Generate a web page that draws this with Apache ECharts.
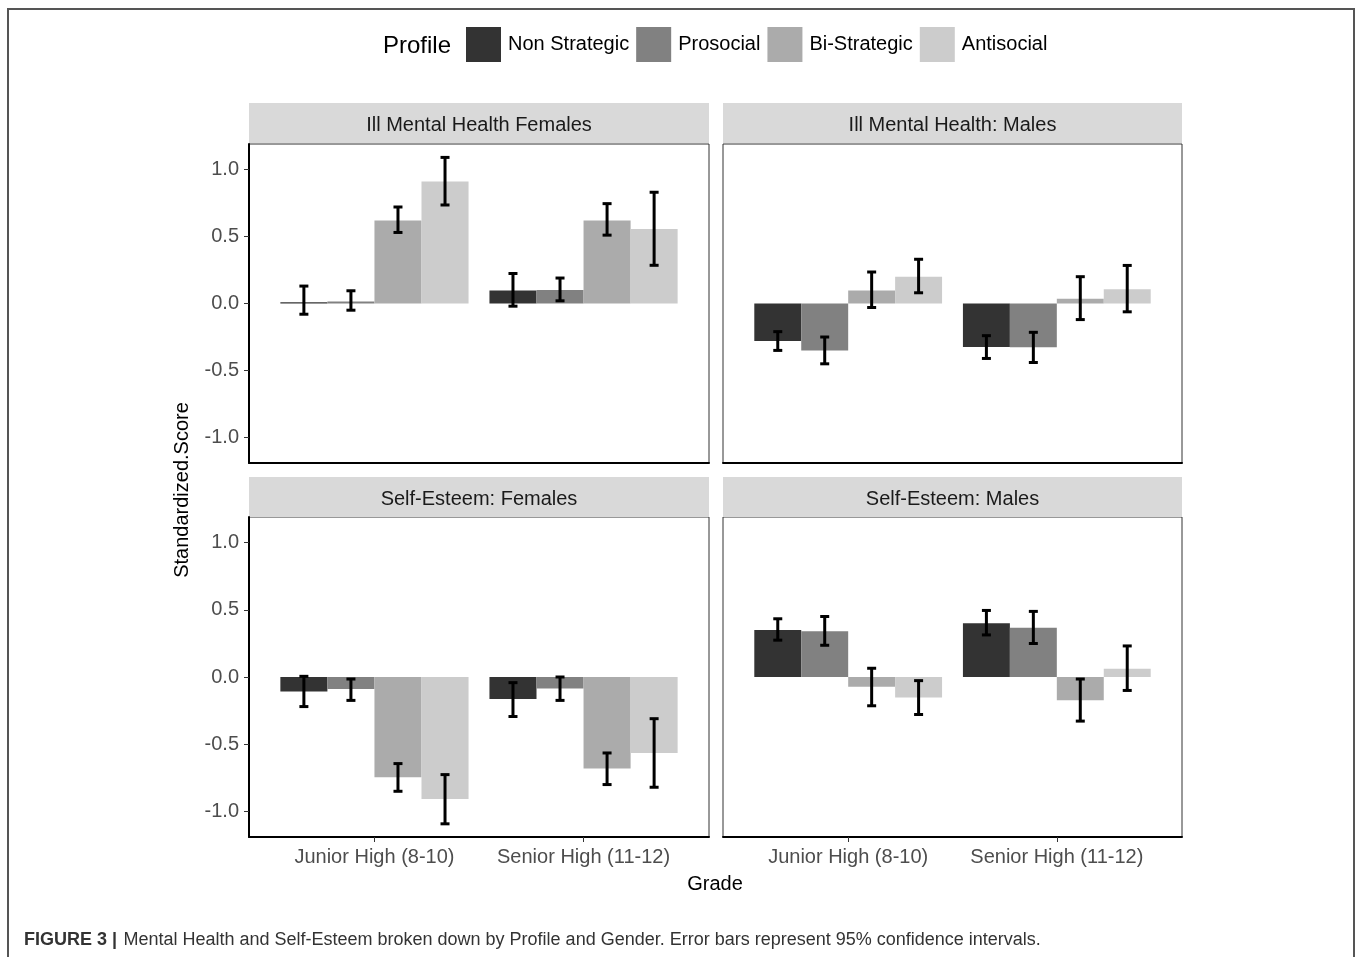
<!DOCTYPE html>
<html>
<head>
<meta charset="utf-8">
<title>Mental Health and Self-Esteem by Profile and Gender</title>
<script src="https://cdn.jsdelivr.net/npm/echarts@6/dist/echarts.min.js"></script>
<style>
  html, body { margin: 0; padding: 0; background: #fff; }
  #chart { width: 1358px; height: 957px; }
</style>
</head>
<body>
<div id="chart"></div>
<script>
// Grades on the x axis, profiles as dodged bars
const grades = ['Junior High (8-10)', 'Senior High (11-12)'];
const profiles = ['Non Strategic', 'Prosocial', 'Bi-Strategic', 'Antisocial'];
const profileColors = ['#333333', '#818181', '#ababab', '#cccccc'];
const yTicks = [-1.0, -0.5, 0.0, 0.5, 1.0];
const panelTitles = ['Ill Mental Health Females', 'Ill Mental Health: Males', 'Self-Esteem: Females', 'Self-Esteem: Males'];

// Means and 95% CI bounds: one row per profile, [Junior, Senior]
const illFemaleMean = [[0.01, 0.097], [0.015, 0.10], [0.62, 0.62], [0.91, 0.555]];
const illFemaleLow  = [[-0.08, -0.02], [-0.05, 0.02], [0.53, 0.51], [0.735, 0.285]];
const illFemaleHigh = [[0.13, 0.224], [0.095, 0.19], [0.72, 0.745], [1.09, 0.83]];

const illMaleMean = [[-0.28, -0.325], [-0.35, -0.326], [0.097, 0.035], [0.20, 0.107]];
const illMaleLow  = [[-0.35, -0.41], [-0.45, -0.44], [-0.03, -0.12], [0.08, -0.062]];
const illMaleHigh = [[-0.21, -0.24], [-0.25, -0.215], [0.235, 0.20], [0.33, 0.284]];

const esteemFemaleMean = [[-0.107, -0.164], [-0.09, -0.085], [-0.746, -0.68], [-0.908, -0.565]];
const esteemFemaleLow  = [[-0.22, -0.294], [-0.174, -0.174], [-0.85, -0.80], [-1.092, -0.82]];
const esteemFemaleHigh = [[0.005, -0.042], [-0.015, 0.0], [-0.644, -0.565], [-0.726, -0.31]];

const esteemMaleMean = [[0.35, 0.40], [0.34, 0.366], [-0.072, -0.172], [-0.152, 0.062]];
const esteemMaleLow  = [[0.274, 0.313], [0.236, 0.249], [-0.214, -0.328], [-0.279, -0.10]];
const esteemMaleHigh = [[0.433, 0.495], [0.45, 0.488], [0.065, -0.015], [-0.027, 0.231]];

const panelData = [
  [illFemaleMean, illFemaleLow, illFemaleHigh],
  [illMaleMean, illMaleLow, illMaleHigh],
  [esteemFemaleMean, esteemFemaleLow, esteemFemaleHigh],
  [esteemMaleMean, esteemMaleLow, esteemMaleHigh]
];

// Panel geometry (px)
const panels = [
  { left: 249, top: 144, width: 460, height: 319, leftCol: true,  bottomRow: false },
  { left: 723, top: 144, width: 459, height: 319, leftCol: false, bottomRow: false },
  { left: 249, top: 517, width: 460, height: 320, leftCol: true,  bottomRow: true },
  { left: 723, top: 517, width: 459, height: 320, leftCol: false, bottomRow: true }
];

const FONT = '"Liberation Sans", Arial, Helvetica, sans-serif';
const DODGE = 0.9 / profiles.length;

function makeRenderer(profIdx) {
  return function (params, api) {
    const x = api.value(0) + (profIdx - (profiles.length - 1) / 2) * DODGE;
    const v = api.value(1), lo = api.value(2), hi = api.value(3);
    const a = api.coord([x - DODGE / 2, v]);
    const b = api.coord([x + DODGE / 2, 0]);
    const top = api.coord([x, hi]);
    const bot = api.coord([x, lo]);
    const cap = 4.5;
    const errStyle = { stroke: '#000', lineWidth: 3, fill: null };
    return {
      type: 'group',
      children: [
        {
          type: 'rect',
          shape: { x: a[0], y: Math.min(a[1], b[1]), width: b[0] - a[0], height: Math.max(Math.abs(b[1] - a[1]), 0.6) },
          style: { fill: api.visual('color') }
        },
        { type: 'line', z2: 10, shape: { x1: top[0], y1: top[1], x2: bot[0], y2: bot[1] }, style: errStyle },
        { type: 'line', z2: 10, shape: { x1: top[0] - cap, y1: top[1], x2: top[0] + cap, y2: top[1] }, style: errStyle },
        { type: 'line', z2: 10, shape: { x1: bot[0] - cap, y1: bot[1], x2: bot[0] + cap, y2: bot[1] }, style: errStyle }
      ]
    };
  };
}

const grid = [], xAxis = [], yAxis = [], series = [];
panels.forEach(function (p, i) {
  grid.push({ left: p.left, top: p.top, width: p.width, height: p.height, show: true,
              borderColor: '#333', borderWidth: 1, backgroundColor: '#fff', containLabel: false });
  // discrete positions 1 and 2 with 0.6 padding on each side
  xAxis.push({
    gridIndex: i, type: 'value', min: 0.4, max: 2.6,
    axisLine: { show: true, onZero: false, lineStyle: { color: '#000', width: 2 } },
    axisTick: { show: p.bottomRow, customValues: [1, 2], length: 5, lineStyle: { color: '#333', width: 1 } },
    axisLabel: { show: p.bottomRow, customValues: [1, 2], margin: 10,
                 formatter: function (v) { return grades[Math.round(v) - 1]; },
                 fontFamily: FONT, fontSize: 20, color: '#4d4d4d' },
    splitLine: { show: false }
  });
  yAxis.push({
    gridIndex: i, type: 'value', min: -1.19, max: 1.19,
    axisLine: { show: p.leftCol, onZero: false, lineStyle: { color: '#000', width: 2 } },
    axisTick: { show: p.leftCol, customValues: yTicks, length: 5, lineStyle: { color: '#333', width: 1 } },
    axisLabel: { show: p.leftCol, customValues: yTicks, margin: 10,
                 formatter: function (v) { return (Math.abs(v) < 1e-9 ? 0 : v).toFixed(1); },
                 fontFamily: FONT, fontSize: 20, color: '#4d4d4d' },
    splitLine: { show: false }
  });
  const [mean, low, high] = panelData[i];
  profiles.forEach(function (name, k) {
    series.push({
      type: 'custom', name: name, xAxisIndex: i, yAxisIndex: i,
      coordinateSystem: 'cartesian2d',
      itemStyle: { color: profileColors[k] },
      encode: { x: 0, y: [1, 2, 3] },
      renderItem: makeRenderer(k),
      clip: false,
      data: grades.map(function (g, j) { return [j + 1, mean[k][j], low[k][j], high[k][j]]; })
    });
  });
});

// Facet strips, titles, frame and caption
const graphic = [
  { type: 'rect', shape: { x: 8, y: 9, width: 1346, height: 1000 },
    style: { fill: null, stroke: '#555', lineWidth: 2 }, silent: true },
  { type: 'text', style: { text: 'Profile', x: 383, y: 46, verticalAlign: 'middle', font: '24px ' + FONT, fill: '#000' } },
  { type: 'text', style: { text: 'Grade', x: 715, y: 884, align: 'center', verticalAlign: 'middle', font: '20px ' + FONT, fill: '#000' } },
  { type: 'text', rotation: Math.PI / 2, x: 182, y: 490,
    style: { text: 'Standardized.Score', x: 0, y: 0, align: 'center', verticalAlign: 'middle', font: '20px ' + FONT, fill: '#000' } },
  { type: 'text', style: {
      x: 24, y: 940, verticalAlign: 'middle',
      text: '{b|FIGURE 3 |} {n|Mental Health and Self-Esteem broken down by Profile and Gender. Error bars represent 95% confidence intervals.}',
      rich: {
        b: { fontFamily: FONT, fontSize: 18, fontWeight: 'bold', fill: '#333' },
        n: { fontFamily: FONT, fontSize: 18, fill: '#333', padding: [0, 0, 0, 3] }
      }
  } }
];
const stripTops = [103, 103, 477, 477];
panels.forEach(function (p, i) {
  graphic.push({ type: 'rect', shape: { x: p.left, y: stripTops[i], width: p.width, height: 40 },
                 style: { fill: '#d9d9d9' }, silent: true });
  graphic.push({ type: 'text', style: { text: panelTitles[i], x: p.left + p.width / 2, y: stripTops[i] + 22,
                 align: 'center', verticalAlign: 'middle', font: '20px ' + FONT, fill: '#1a1a1a' } });
});

const chart = echarts.init(document.getElementById('chart'), null, { renderer: 'canvas' });
chart.setOption({
  backgroundColor: '#fff',
  animation: false,
  legend: {
    data: profiles.map(function (n, k) { return { name: n, itemStyle: { color: profileColors[k] } }; }),
    left: 466, top: 27, padding: 0, icon: 'rect', itemWidth: 35, itemHeight: 35, itemGap: 7,
    selectedMode: false,
    textStyle: { fontFamily: FONT, fontSize: 20, color: '#000', padding: [4, 0, 0, 2] }
  },
  grid: grid, xAxis: xAxis, yAxis: yAxis, series: series, graphic: graphic
});
</script>
</body>
</html>
